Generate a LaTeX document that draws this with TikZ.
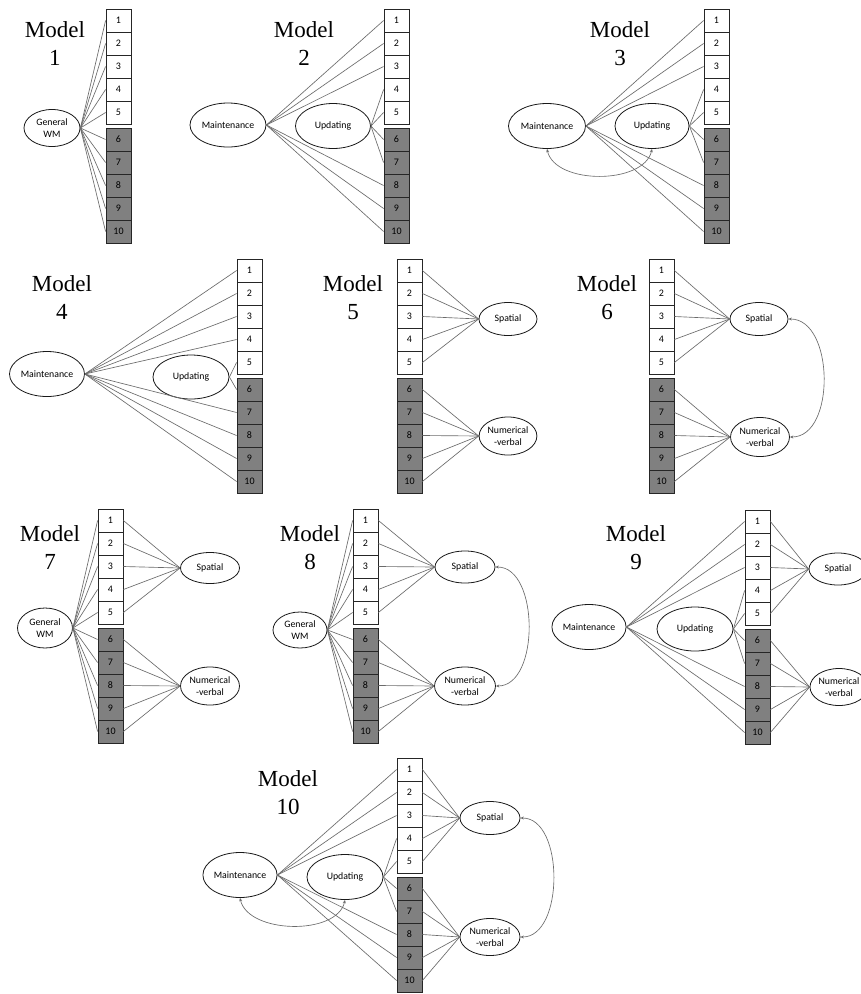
\documentclass[tikz,border=0pt]{standalone}
\usepackage{fontspec}
\setmainfont{Liberation Serif}
\newfontfamily\lbl{Carlito}
\usetikzlibrary{shapes.geometric,arrows.meta}
\newcommand{\taskcol}[3]{%
  \foreach \i in {1,...,10}{%
    \pgfmathsetmacro\yy{#3+11.5+(\i-1)*23+(\i>5)*4}%
    \ifnum\i>5
      \node[dbox] (#1-\i) at (#2+12.5,\yy) {\i};
    \else
      \node[wbox] (#1-\i) at (#2+12.5,\yy) {\i};
    \fi
  }%
}
\begin{document}
\begin{tikzpicture}[x=1pt,y=-1pt,
 wbox/.style={draw=black!85, line width=0.8pt, fill=white, minimum width=25pt, minimum height=23pt, inner sep=0pt, font=\lbl\fontsize{10}{11}\selectfont},
 dbox/.style={wbox, fill=black!50},
 lat/.style={ellipse, draw=black!90, line width=0.8pt, fill=white, inner sep=0pt, align=center, font=\lbl\fontsize{9.8}{12}\selectfont},
 ln/.style={draw=black!58, line width=0.65pt},
 cov/.style={ln, {Stealth[length=3.5pt,width=3pt]}-{Stealth[length=3.5pt,width=3pt]}},
 ttl/.style={align=center, font=\fontsize{23}{28}\selectfont, inner sep=0pt}
]
\fill[white] (0,0) rectangle (861,994);
\useasboundingbox (0,0) rectangle (861,994);

% ---------- Model 1
\node[ttl] (t1) at (55,44) {Model\\1};
\taskcol{a}{106}{9}
\node[lat, minimum width=56pt, minimum height=37pt] (a0) at (52,128) {General\\WM};
\foreach \j in {1,...,10} \draw[ln] (a0.east) -- (a-\j.west);

% ---------- Model 2
\node[ttl] (t2) at (304,44) {Model\\2};
\taskcol{b}{384}{9}
\node[lat, minimum width=76pt, minimum height=44pt] (bm) at (228,125) {Maintenance};
\node[lat, minimum width=75pt, minimum height=45pt] (bu) at (333,126) {Updating};
\foreach \j in {1,2,3,8,9,10} \draw[ln] (bm.east) -- (b-\j.west);
\foreach \j in {4,5,6,7} \draw[ln] (bu.east) -- (b-\j.west);

% ---------- Model 3
\node[ttl] (t3) at (620,44) {Model\\3};
\taskcol{c}{704}{9}
\node[lat, minimum width=77pt, minimum height=45pt] (cm) at (547,126) {Maintenance};
\node[lat, minimum width=74pt, minimum height=45pt] (cu) at (652,126) {Updating};
\foreach \j in {1,2,3,8,9,10} \draw[ln] (cm.east) -- (c-\j.west);
\foreach \j in {4,5,6,7} \draw[ln] (cu.east) -- (c-\j.west);
\draw[cov] (cm.south) .. controls +(8,36) and +(-8,36) .. (cu.south);

% ---------- Model 4
\node[ttl] (t4) at (62,298) {Model\\4};
\taskcol{d}{237}{259}
\node[lat, minimum width=75pt, minimum height=45pt] (dm) at (47,374) {Maintenance};
\node[lat, minimum width=76pt, minimum height=44pt] (du) at (191,377) {Updating};
\foreach \j in {1,2,3,4,7,8,9,10} \draw[ln] (dm.east) -- (d-\j.west);
\foreach \j in {5,6} \draw[ln] (du.east) -- (d-\j.west);

% ---------- Model 5
\node[ttl] (t5) at (353,298) {Model\\5};
\taskcol{e}{397}{259}
\node[lat, minimum width=58pt, minimum height=33pt] (es) at (508,319) {Spatial};
\node[lat, minimum width=57pt, minimum height=38pt] (en) at (508,436) {Numerical\\-verbal};
\foreach \j in {1,...,5} \draw[ln] (e-\j.east) -- (es.west);
\foreach \j in {6,...,10} \draw[ln] (e-\j.east) -- (en.west);

% ---------- Model 6
\node[ttl] (t6) at (607,298) {Model\\6};
\taskcol{f}{649}{259}
\node[lat, minimum width=58pt, minimum height=33pt] (fs) at (759,319) {Spatial};
\node[lat, minimum width=59pt, minimum height=39pt] (fn) at (760,437) {Numerical\\-verbal};
\foreach \j in {1,...,5} \draw[ln] (f-\j.east) -- (fs.west);
\foreach \j in {6,...,10} \draw[ln] (f-\j.east) -- (fn.west);
\draw[cov] (fs.east) .. controls +(46,0) and +(46,0) .. (fn.east);

% ---------- Model 7
\node[ttl] (t7) at (50,548) {Model\\7};
\taskcol{g}{98}{509}
\node[lat, minimum width=55pt, minimum height=40pt] (g0) at (45,628) {General\\WM};
\node[lat, minimum width=59pt, minimum height=31pt] (gs) at (210,568) {Spatial};
\node[lat, minimum width=59pt, minimum height=38pt] (gn) at (210,686) {Numerical\\-verbal};
\foreach \j in {1,...,10} \draw[ln] (g0.east) -- (g-\j.west);
\foreach \j in {1,...,5} \draw[ln] (g-\j.east) -- (gs.west);
\foreach \j in {6,...,10} \draw[ln] (g-\j.east) -- (gn.west);

% ---------- Model 8
\node[ttl] (t8) at (310,548) {Model\\8};
\taskcol{h}{353}{509}
\node[lat, minimum width=54pt, minimum height=36pt] (h0) at (300,630) {General\\WM};
\node[lat, minimum width=60pt, minimum height=32pt] (hs) at (465,567) {Spatial};
\node[lat, minimum width=61pt, minimum height=38pt] (hn) at (465,686) {Numerical\\-verbal};
\foreach \j in {1,...,10} \draw[ln] (h0.east) -- (h-\j.west);
\foreach \j in {1,...,5} \draw[ln] (h-\j.east) -- (hs.west);
\foreach \j in {6,...,10} \draw[ln] (h-\j.east) -- (hn.west);
\draw[cov] (hs.east) .. controls +(44,0) and +(44,0) .. (hn.east);

% ---------- Model 9
\node[ttl] (t9) at (636,548) {Model\\9};
\taskcol{k}{745}{510}
\node[lat, minimum width=74pt, minimum height=45pt] (km) at (589,627) {Maintenance};
\node[lat, minimum width=76pt, minimum height=44pt] (ku) at (695,629) {Updating};
\node[lat, minimum width=58pt, minimum height=32pt] (ks) at (838,569) {Spatial};
\node[lat, minimum width=58pt, minimum height=37pt] (kn) at (839,687) {Numerical\\-verbal};
\foreach \j in {1,2,3,8,9,10} \draw[ln] (km.east) -- (k-\j.west);
\foreach \j in {4,5,6,7} \draw[ln] (ku.east) -- (k-\j.west);
\foreach \j in {1,...,5} \draw[ln] (k-\j.east) -- (ks.west);
\foreach \j in {6,...,10} \draw[ln] (k-\j.east) -- (kn.west);

% ---------- Model 10
\node[ttl] (t10) at (288,793) {Model\\10};
\taskcol{m}{397}{758}
\node[lat, minimum width=74pt, minimum height=45pt] (mm) at (240,875) {Maintenance};
\node[lat, minimum width=76pt, minimum height=45pt] (mu) at (345,877) {Updating};
\node[lat, minimum width=60pt, minimum height=33pt] (ms) at (490,818) {Spatial};
\node[lat, minimum width=60pt, minimum height=37pt] (mn) at (490,937) {Numerical\\-verbal};
\foreach \j in {1,2,3,8,9,10} \draw[ln] (mm.east) -- (m-\j.west);
\foreach \j in {4,5,6,7} \draw[ln] (mu.east) -- (m-\j.west);
\foreach \j in {1,...,5} \draw[ln] (m-\j.east) -- (ms.west);
\foreach \j in {6,...,10} \draw[ln] (m-\j.east) -- (mn.west);
\draw[cov] (mm.south) .. controls +(8,36) and +(-8,36) .. (mu.south);
\draw[cov] (ms.east) .. controls +(44,0) and +(44,0) .. (mn.east);
\end{tikzpicture}
\end{document}
